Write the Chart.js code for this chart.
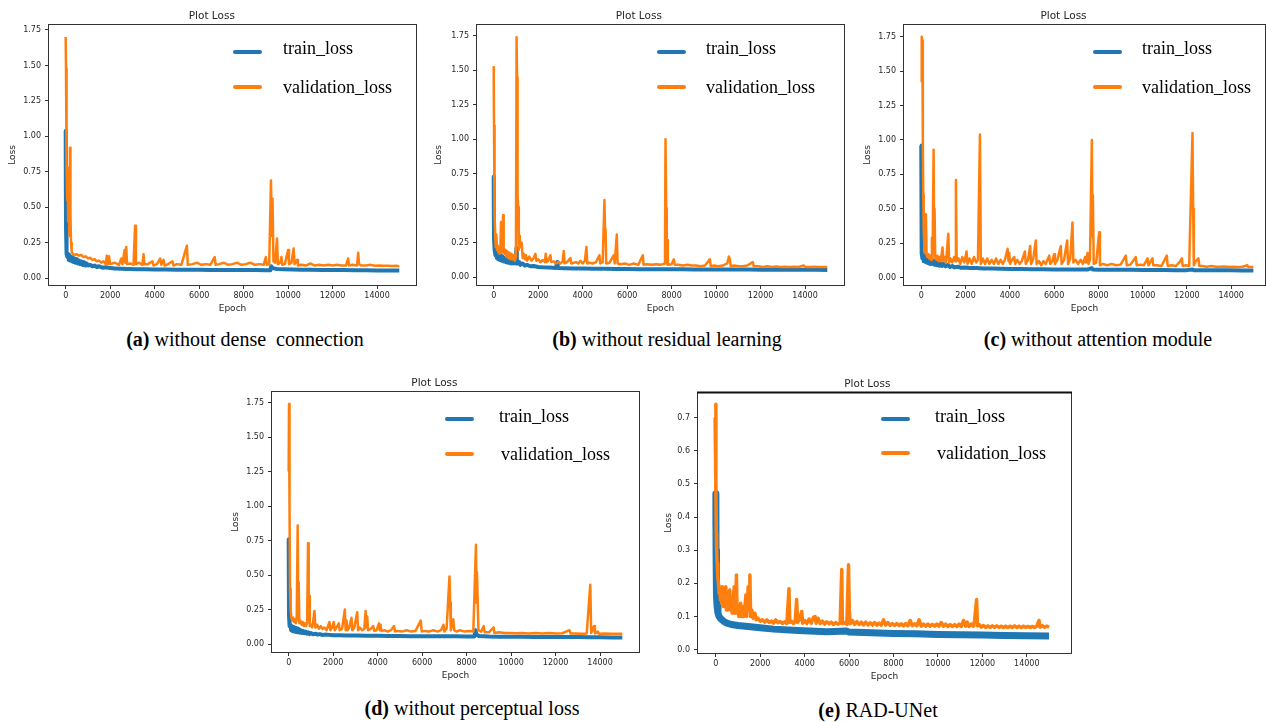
<!DOCTYPE html>
<html>
<head>
<meta charset="utf-8">
<script src="https://cdn.jsdelivr.net/npm/chart.js@4.4.0/dist/chart.umd.min.js"></script>
<style>
  body { margin: 0; width: 1266px; height: 722px; overflow: hidden; background: #fff; position: relative; }
  canvas { position: absolute; }
  .legLine { position: absolute; width: 29px; height: 4px; border-radius: 2px; }
  .legText { position: absolute; font-family: "Liberation Serif", "Times New Roman", serif; font-size: 18px; line-height: 18px; color: #000; white-space: pre; }
  .caption { position: absolute; width: 400px; text-align: center; font-family: "Liberation Serif", "Times New Roman", serif; font-size: 20px; line-height: 20px; color: #000; white-space: pre; }
</style>
</head>
<body>
<canvas id="chartA" width="425" height="320" style="left:-1px;top:-5px"></canvas>
<canvas id="chartB" width="425" height="320" style="left:427px;top:-5px"></canvas>
<canvas id="chartC" width="419" height="320" style="left:854px;top:-5px"></canvas>
<canvas id="chartD" width="425" height="320" style="left:222px;top:362px"></canvas>
<canvas id="chartE" width="431" height="320" style="left:648px;top:363px"></canvas>

<!-- legends -->
<div class="legLine" style="left:233px;top:50px;background:#1f77b4"></div>
<div class="legLine" style="left:233px;top:85px;background:#ff7f0e"></div>
<div class="legText" style="left:283px;top:39px">train_loss</div>
<div class="legText" style="left:283px;top:78px">validation_loss</div>

<div class="legLine" style="left:657px;top:50px;background:#1f77b4"></div>
<div class="legLine" style="left:657px;top:85px;background:#ff7f0e"></div>
<div class="legText" style="left:706px;top:39px">train_loss</div>
<div class="legText" style="left:706px;top:78px">validation_loss</div>

<div class="legLine" style="left:1093px;top:50px;background:#1f77b4"></div>
<div class="legLine" style="left:1093px;top:85px;background:#ff7f0e"></div>
<div class="legText" style="left:1142px;top:39px">train_loss</div>
<div class="legText" style="left:1142px;top:78px">validation_loss</div>

<div class="legLine" style="left:445px;top:417px;background:#1f77b4"></div>
<div class="legLine" style="left:445px;top:452px;background:#ff7f0e"></div>
<div class="legText" style="left:499px;top:407px">train_loss</div>
<div class="legText" style="left:501px;top:445px">validation_loss</div>

<div class="legLine" style="left:881px;top:417px;background:#1f77b4"></div>
<div class="legLine" style="left:881px;top:451px;background:#ff7f0e"></div>
<div class="legText" style="left:935px;top:407px">train_loss</div>
<div class="legText" style="left:937px;top:444px">validation_loss</div>

<!-- captions -->
<div class="caption" style="left:45px;top:329px"><b>(a)</b> without dense  connection</div>
<div class="caption" style="left:467px;top:329px"><b>(b)</b> without residual learning</div>
<div class="caption" style="left:898px;top:329px"><b>(c)</b> without attention module</div>
<div class="caption" style="left:272px;top:698px"><b>(d)</b> without perceptual loss</div>
<div class="caption" style="left:678px;top:700px"><b>(e)</b> RAD-UNet</div>

<script>
const blue = '#1f77b4';
const orange = '#ff7f0e';

const epochTicks = [0, 2000, 4000, 6000, 8000, 10000, 12000, 14000];
const lossTicks = [0, 0.25, 0.5, 0.75, 1.0, 1.25, 1.5, 1.75];
const lossTicksE = [0, 0.1, 0.2, 0.3, 0.4, 0.5, 0.6, 0.7];

// [epoch, loss] pairs
const trainA = [[0,1.04],[8,0.62],[16,0.35],[30,0.22],[50,0.17],[80,0.15],[110,0.17],[140,0.13],[170,0.16],[200,0.125],
  [240,0.15],[280,0.12],[320,0.145],[360,0.115],[400,0.14],[450,0.11],[500,0.135],[550,0.105],[600,0.125],[650,0.10],
  [700,0.12],[760,0.095],[820,0.115],[880,0.09],[940,0.105],[1000,0.09],[1100,0.095],[1200,0.085],[1300,0.09],[1400,0.08],
  [1500,0.085],[1650,0.075],[1800,0.078],[2000,0.072],[2200,0.07],[2500,0.068],[2800,0.066],[3200,0.064],[3600,0.064],[4000,0.062],
  [4500,0.062],[5000,0.061],[5500,0.06],[6000,0.06],[6500,0.059],[7000,0.059],[7500,0.058],[8000,0.058],[8500,0.058],[9000,0.057],
  [9200,0.057],[9240,0.085],[9280,0.075],[9350,0.07],[9500,0.066],[9800,0.064],[10200,0.062],[10600,0.061],[11000,0.06],[11500,0.059],
  [12000,0.058],[12500,0.058],[13000,0.057],[13500,0.057],[14000,0.056],[14500,0.056],[15000,0.055]];
const valA = [[0,1.70],[15,1.48],[30,1.0],[50,0.78],[70,0.55],[90,0.78],[110,0.40],[140,0.52],[170,0.30],[195,0.92],
  [215,0.45],[240,0.25],[270,0.19],[320,0.17],[400,0.165],[500,0.17],[600,0.16],[700,0.165],[800,0.15],[900,0.155],
  [1000,0.14],[1100,0.145],[1200,0.13],[1300,0.135],[1400,0.12],[1500,0.125],[1600,0.11],[1700,0.12],[1800,0.10],[1850,0.16],
  [1900,0.10],[1950,0.155],[2000,0.10],[2200,0.11],[2400,0.095],[2500,0.14],[2550,0.10],[2650,0.20],[2680,0.11],[2720,0.22],
  [2760,0.10],[2900,0.105],[3050,0.095],[3120,0.37],[3160,0.10],[3300,0.11],[3450,0.095],[3500,0.17],[3540,0.10],[3700,0.10],
  [3900,0.12],[3950,0.09],[4100,0.10],[4250,0.14],[4300,0.095],[4400,0.13],[4450,0.09],[4600,0.10],[4800,0.12],[4850,0.09],
  [5000,0.10],[5200,0.095],[5450,0.23],[5490,0.095],[5700,0.10],[5900,0.11],[6100,0.095],[6300,0.10],[6500,0.095],[6700,0.15],
  [6740,0.095],[6900,0.10],[7100,0.11],[7300,0.095],[7500,0.10],[7700,0.11],[7900,0.095],[8100,0.10],[8300,0.11],[8500,0.095],
  [8700,0.10],[8900,0.095],[9000,0.15],[9040,0.095],[9150,0.10],[9230,0.69],[9270,0.30],[9300,0.56],[9340,0.12],[9420,0.11],
  [9500,0.28],[9540,0.10],[9650,0.11],[9700,0.15],[9740,0.095],[9850,0.10],[10000,0.20],[10040,0.10],[10150,0.11],[10250,0.21],
  [10290,0.10],[10400,0.13],[10440,0.09],[10600,0.095],[10800,0.09],[11000,0.105],[11200,0.09],[11400,0.095],[11600,0.09],[11800,0.095],
  [12000,0.09],[12200,0.095],[12400,0.09],[12600,0.09],[12700,0.14],[12740,0.09],[12900,0.095],[13100,0.09],[13150,0.18],[13190,0.10],
  [13300,0.09],[13500,0.09],[13700,0.095],[13900,0.088],[14100,0.09],[14300,0.088],[14500,0.088],[14700,0.087],[14850,0.088],[15000,0.085]];

const trainB = [[0,0.73],[8,0.45],[16,0.28],[30,0.22],[50,0.2],[80,0.16],[110,0.2],[140,0.14],[170,0.18],[200,0.13],
  [240,0.17],[280,0.125],[320,0.16],[360,0.12],[400,0.15],[450,0.115],[500,0.14],[550,0.11],[600,0.135],[650,0.105],
  [700,0.13],[760,0.1],[820,0.125],[880,0.1],[940,0.12],[1000,0.1],[1020,0.21],[1040,0.13],[1080,0.1],[1150,0.11],
  [1200,0.09],[1300,0.1],[1400,0.085],[1500,0.09],[1650,0.08],[1800,0.082],[2000,0.075],[2200,0.072],[2500,0.07],[2800,0.068],
  [2850,0.11],[2880,0.068],[3200,0.066],[3600,0.064],[4000,0.063],[4500,0.062],[5000,0.061],[5500,0.06],[6000,0.06],[6500,0.059],
  [7000,0.059],[7500,0.058],[8000,0.058],[8500,0.058],[9000,0.057],[9500,0.057],[10000,0.057],[10500,0.056],[11000,0.056],[11500,0.056],
  [12000,0.055],[12500,0.055],[13000,0.055],[13500,0.054],[14000,0.054],[14500,0.054],[15000,0.053]];
const valB = [[0,1.53],[15,1.1],[30,0.76],[50,0.45],[70,0.3],[90,0.22],[120,0.31],[150,0.2],[180,0.23],[210,0.18],
  [240,0.21],[270,0.17],[300,0.2],[330,0.4],[360,0.18],[390,0.21],[420,0.45],[450,0.2],[480,0.17],[525,0.2],
  [560,0.15],[600,0.19],[650,0.14],[700,0.18],[750,0.13],[800,0.17],[850,0.13],[900,0.16],[950,0.12],[1000,0.15],
  [1030,1.74],[1050,1.45],[1075,0.6],[1100,0.51],[1130,0.2],[1170,0.3],[1200,0.22],[1260,0.25],[1300,0.14],[1350,0.17],
  [1400,0.13],[1450,0.16],[1500,0.12],[1600,0.15],[1700,0.12],[1800,0.14],[1875,0.17],[1920,0.12],[2000,0.13],[2100,0.11],
  [2200,0.125],[2300,0.11],[2340,0.17],[2380,0.11],[2450,0.12],[2550,0.16],[2590,0.11],[2700,0.115],[2800,0.1],[2900,0.11],
  [3000,0.1],[3100,0.115],[3150,0.19],[3190,0.1],[3300,0.11],[3450,0.14],[3490,0.1],[3600,0.105],[3700,0.11],[3800,0.1],
  [3900,0.12],[4000,0.1],[4100,0.12],[4170,0.22],[4210,0.1],[4300,0.105],[4450,0.1],[4600,0.11],[4755,0.16],[4790,0.1],
  [4900,0.11],[4980,0.56],[5010,0.3],[5030,0.35],[5060,0.1],[5200,0.105],[5400,0.16],[5440,0.1],[5535,0.31],[5570,0.1],
  [5700,0.095],[5900,0.1],[6100,0.09],[6300,0.1],[6500,0.09],[6705,0.16],[6740,0.09],[6900,0.095],[7100,0.09],[7300,0.095],
  [7500,0.09],[7700,0.1],[7725,1.0],[7755,0.5],[7780,0.1],[7800,0.27],[7830,0.09],[8000,0.095],[8100,0.13],[8140,0.09],
  [8300,0.09],[8500,0.085],[8700,0.09],[8900,0.085],[9100,0.085],[9300,0.08],[9500,0.085],[9720,0.13],[9760,0.08],[9900,0.085],
  [10100,0.08],[10300,0.085],[10500,0.1],[10575,0.15],[10620,0.13],[10660,0.08],[10800,0.085],[11000,0.08],[11200,0.08],[11400,0.085],
  [11650,0.11],[11690,0.08],[11900,0.08],[12100,0.075],[12300,0.08],[12500,0.075],[12700,0.078],[12900,0.075],[13100,0.077],[13300,0.074],
  [13500,0.076],[13700,0.074],[13950,0.085],[14000,0.075],[14200,0.074],[14400,0.076],[14600,0.074],[14800,0.075],[15000,0.075]];

const trainC = [[0,0.96],[8,0.5],[16,0.27],[30,0.18],[50,0.14],[80,0.17],[110,0.12],[140,0.16],[170,0.115],[200,0.15],
  [240,0.11],[280,0.145],[320,0.105],[360,0.14],[400,0.1],[450,0.13],[500,0.1],[550,0.125],[600,0.095],[650,0.12],
  [700,0.09],[760,0.11],[820,0.088],[880,0.105],[940,0.085],[1000,0.1],[1100,0.082],[1200,0.092],[1300,0.078],[1400,0.085],
  [1500,0.075],[1650,0.08],[1800,0.072],[2000,0.074],[2200,0.07],[2500,0.07],[2800,0.067],[3200,0.066],[3600,0.065],[4000,0.064],
  [4500,0.063],[5000,0.062],[5500,0.061],[6000,0.06],[6500,0.06],[7000,0.059],[7500,0.059],[7700,0.07],[7740,0.06],[8000,0.058],
  [8500,0.058],[9000,0.057],[9500,0.057],[10000,0.056],[10500,0.056],[11000,0.056],[11500,0.055],[12000,0.055],[12250,0.06],[12300,0.055],
  [12500,0.055],[13000,0.054],[13500,0.054],[14000,0.054],[14500,0.053],[15000,0.053]];
const valC = [[0,1.42],[20,1.75],[50,1.72],[70,1.0],[90,0.6],[110,0.35],[135,0.25],[160,0.18],[190,0.2],[210,0.46],
  [240,0.17],[280,0.15],[320,0.17],[360,0.14],[400,0.16],[440,0.13],[480,0.29],[510,0.14],[557,0.93],[580,0.3],
  [600,0.5],[630,0.15],[680,0.13],[730,0.16],[780,0.12],[830,0.15],[880,0.12],[960,0.22],[1000,0.12],[1060,0.15],
  [1120,0.11],[1220,0.32],[1260,0.11],[1320,0.14],[1400,0.11],[1480,0.15],[1530,0.12],[1565,0.71],[1600,0.12],[1680,0.14],
  [1760,0.1],[1850,0.15],[1950,0.11],[2045,0.19],[2090,0.1],[2180,0.14],[2280,0.1],[2380,0.15],[2480,0.11],[2560,0.13],
  [2650,1.04],[2690,0.1],[2780,0.14],[2880,0.1],[2980,0.14],[3080,0.1],[3180,0.13],[3280,0.1],[3380,0.14],[3480,0.1],
  [3580,0.13],[3680,0.1],[3780,0.13],[3900,0.21],[3940,0.12],[3970,0.18],[4010,0.1],[4100,0.13],[4200,0.15],[4240,0.1],
  [4340,0.13],[4440,0.1],[4540,0.12],[4680,0.19],[4720,0.1],[4820,0.13],[4920,0.23],[4960,0.1],[5060,0.14],[5175,0.27],
  [5210,0.1],[5320,0.12],[5420,0.09],[5520,0.12],[5620,0.1],[5780,0.16],[5820,0.1],[5920,0.12],[6000,0.17],[6040,0.1],
  [6150,0.13],[6300,0.23],[6340,0.1],[6450,0.13],[6590,0.27],[6630,0.1],[6730,0.14],[6830,0.4],[6870,0.11],[6970,0.13],
  [7080,0.1],[7200,0.13],[7300,0.1],[7400,0.15],[7440,0.11],[7510,0.18],[7550,0.1],[7620,0.13],[7705,1.0],[7735,0.3],
  [7750,0.6],[7790,0.1],[7900,0.11],[8035,0.33],[8070,0.09],[8200,0.1],[8400,0.09],[8600,0.1],[8800,0.09],[9000,0.095],
  [9240,0.16],[9280,0.09],[9450,0.095],[9690,0.15],[9730,0.09],[9900,0.095],[10050,0.09],[10220,0.14],[10260,0.09],[10440,0.14],
  [10480,0.09],[10650,0.09],[10850,0.085],[11090,0.16],[11130,0.085],[11300,0.09],[11500,0.085],[11700,0.12],[11770,0.14],[11810,0.085],
  [11950,0.09],[12100,0.085],[12250,1.05],[12280,0.5],[12310,0.09],[12400,0.12],[12520,0.14],[12560,0.085],[12700,0.085],[12900,0.08],
  [13100,0.085],[13300,0.08],[13500,0.08],[13700,0.082],[13900,0.078],[14100,0.08],[14300,0.078],[14500,0.08],[14730,0.09],[14770,0.078],
  [14900,0.078],[15000,0.077]];

const trainD = [[0,0.76],[8,0.4],[16,0.2],[30,0.16],[50,0.13],[80,0.14],[110,0.1],[140,0.13],[170,0.095],[200,0.125],
  [240,0.09],[280,0.12],[320,0.088],[360,0.115],[400,0.085],[450,0.11],[500,0.082],[550,0.1],[600,0.08],[650,0.095],
  [700,0.078],[760,0.09],[820,0.075],[880,0.085],[940,0.072],[1000,0.08],[1100,0.07],[1200,0.075],[1300,0.068],[1400,0.072],
  [1500,0.066],[1700,0.068],[2000,0.064],[2300,0.064],[2600,0.062],[3000,0.061],[3500,0.06],[4000,0.059],[4500,0.058],[5000,0.058],
  [5500,0.057],[6000,0.057],[6500,0.056],[7000,0.056],[7500,0.056],[8000,0.055],[8350,0.055],[8400,0.1],[8440,0.07],[8550,0.058],
  [9000,0.054],[9500,0.053],[10000,0.052],[10500,0.052],[11000,0.051],[11500,0.051],[12000,0.05],[12500,0.05],[13000,0.05],[13500,0.049],
  [14000,0.049],[14500,0.048],[15000,0.048]];
const valD = [[0,1.25],[15,1.74],[30,1.7],[45,1.0],[60,0.4],[90,0.25],[120,0.19],[160,0.17],[200,0.19],[240,0.16],
  [280,0.18],[320,0.15],[360,0.17],[405,0.86],[430,0.2],[450,0.45],[480,0.15],[530,0.17],[580,0.14],[630,0.16],
  [680,0.13],[730,0.15],[780,0.13],[830,0.15],[870,0.73],[900,0.2],[920,0.35],[950,0.13],[1000,0.14],[1060,0.12],
  [1160,0.24],[1200,0.12],[1280,0.14],[1360,0.11],[1440,0.13],[1520,0.11],[1600,0.12],[1700,0.1],[1835,0.16],[1870,0.1],
  [1950,0.12],[2030,0.16],[2070,0.1],[2150,0.12],[2255,0.15],[2290,0.1],[2400,0.11],[2525,0.25],[2560,0.1],[2600,0.17],
  [2640,0.1],[2720,0.12],[2825,0.19],[2860,0.1],[2950,0.12],[3080,0.23],[3120,0.1],[3200,0.12],[3300,0.1],[3400,0.11],
  [3460,0.24],[3490,0.12],[3530,0.2],[3570,0.1],[3700,0.11],[3800,0.13],[3850,0.095],[3950,0.1],[4060,0.15],[4090,0.1],
  [4130,0.14],[4170,0.095],[4300,0.1],[4450,0.09],[4600,0.1],[4740,0.13],[4780,0.09],[4900,0.095],[5100,0.09],[5300,0.1],
  [5500,0.09],[5700,0.095],[5940,0.17],[5980,0.09],[6100,0.095],[6300,0.09],[6500,0.1],[6700,0.09],[6850,0.1],[6960,0.14],
  [7000,0.09],[7100,0.11],[7230,0.49],[7260,0.3],[7290,0.1],[7400,0.18],[7440,0.1],[7550,0.09],[7700,0.1],[7900,0.09],
  [8100,0.095],[8300,0.09],[8420,0.72],[8445,0.3],[8465,0.52],[8500,0.3],[8530,0.1],[8650,0.09],[8770,0.13],[8810,0.085],
  [9000,0.085],[9215,0.12],[9250,0.08],[9450,0.085],[9700,0.08],[9900,0.08],[10200,0.078],[10500,0.08],[10800,0.077],[11100,0.08],
  [11400,0.077],[11700,0.079],[12000,0.076],[12300,0.078],[12630,0.1],[12670,0.076],[12900,0.077],[13200,0.075],[13400,0.077],[13560,0.43],
  [13600,0.08],[13730,0.13],[13770,0.076],[13900,0.09],[13940,0.075],[14200,0.076],[14500,0.074],[14800,0.075],[15000,0.074]];

const trainE = [[0,0.37],[5,0.47],[12,0.3],[25,0.2],[40,0.16],[60,0.13],[100,0.11],[150,0.1],[230,0.093],[350,0.086],
  [500,0.08],[700,0.076],[1000,0.073],[1450,0.07],[2000,0.066],[2600,0.062],[3700,0.058],[5000,0.054],[5900,0.056],[6000,0.053],
  [7000,0.051],[8000,0.049],[9000,0.048],[10000,0.046],[11000,0.045],[12000,0.044],[13000,0.043],[14000,0.042],[15000,0.041]];
const valE = [[-30,0.7],[0,0.74],[10,0.48],[25,0.35],[40,0.3],[60,0.26],[90,0.22],[120,0.2],[150,0.17],[180,0.19],
  [210,0.15],[240,0.18],[270,0.14],[300,0.19],[330,0.13],[370,0.17],[410,0.13],[450,0.19],[480,0.12],[510,0.16],
  [540,0.12],[580,0.17],[630,0.18],[660,0.12],[700,0.15],[740,0.11],[780,0.14],[830,0.19],[860,0.11],[900,0.15],
  [930,0.225],[960,0.11],[1000,0.13],[1040,0.1],[1080,0.12],[1120,0.14],[1160,0.1],[1200,0.13],[1250,0.1],[1300,0.12],
  [1355,0.165],[1390,0.1],[1420,0.14],[1460,0.19],[1500,0.12],[1535,0.225],[1570,0.1],[1620,0.12],[1680,0.095],[1760,0.11],
  [1820,0.09],[1900,0.095],[2000,0.086],[2100,0.09],[2200,0.083],[2300,0.09],[2400,0.082],[2500,0.086],[2600,0.08],[2700,0.09],
  [2800,0.081],[2900,0.085],[3000,0.079],[3100,0.084],[3200,0.079],[3295,0.184],[3330,0.082],[3400,0.086],[3500,0.079],[3580,0.088],
  [3640,0.151],[3680,0.082],[3760,0.09],[3870,0.115],[3910,0.08],[4000,0.088],[4100,0.079],[4200,0.092],[4300,0.08],[4400,0.098],
  [4470,0.1],[4520,0.08],[4600,0.095],[4700,0.079],[4800,0.086],[4900,0.077],[5000,0.084],[5100,0.078],[5200,0.083],[5300,0.076],
  [5400,0.082],[5500,0.077],[5600,0.08],[5670,0.242],[5700,0.078],[5800,0.082],[5900,0.076],[5975,0.256],[6010,0.12],[6050,0.078],
  [6150,0.088],[6250,0.076],[6350,0.085],[6450,0.076],[6550,0.083],[6650,0.075],[6750,0.083],[6850,0.075],[6950,0.081],[7050,0.074],
  [7150,0.082],[7250,0.074],[7350,0.08],[7450,0.074],[7550,0.09],[7650,0.074],[7750,0.082],[7850,0.073],[7950,0.079],[8050,0.073],
  [8150,0.079],[8250,0.073],[8350,0.078],[8450,0.072],[8550,0.079],[8650,0.072],[8750,0.088],[8850,0.072],[8950,0.078],[9050,0.072],
  [9150,0.09],[9250,0.071],[9350,0.077],[9450,0.071],[9550,0.077],[9650,0.071],[9750,0.076],[9850,0.071],[9950,0.077],[10050,0.071],
  [10150,0.082],[10250,0.071],[10350,0.077],[10450,0.07],[10550,0.076],[10650,0.07],[10750,0.076],[10850,0.07],[10950,0.077],[11050,0.07],
  [11150,0.088],[11250,0.071],[11320,0.083],[11400,0.07],[11500,0.077],[11600,0.071],[11650,0.088],[11740,0.151],[11780,0.072],[11850,0.076],
  [11950,0.068],[12050,0.073],[12150,0.067],[12250,0.072],[12350,0.067],[12450,0.072],[12550,0.067],[12650,0.072],[12750,0.067],[12850,0.071],
  [12950,0.067],[13050,0.071],[13150,0.067],[13250,0.071],[13350,0.067],[13450,0.072],[13550,0.067],[13650,0.071],[13750,0.067],[13850,0.071],
  [13950,0.067],[14050,0.07],[14150,0.067],[14250,0.07],[14350,0.067],[14450,0.071],[14550,0.088],[14600,0.068],[14700,0.072],[14800,0.068],
  [14900,0.071],[15000,0.068]];

const tickFont = { family: 'DejaVu Sans', size: 8 };
const labelFont = { family: 'DejaVu Sans', size: 9 };
const textColor = '#262626';

// matplotlib style box around the plot area
const framePlugin = {
  id: 'frame',
  afterDraw(chart, args, opts) {
    const { left, top, right, bottom } = chart.chartArea;
    const ctx = chart.ctx;
    ctx.save();
    ctx.strokeStyle = '#333';
    ctx.lineWidth = 1;
    ctx.strokeRect(Math.round(left) - 0.5, Math.round(top) - 0.5, Math.round(right - left) + 1, Math.round(bottom - top) + 1);
    if (opts.topWidth) {
      ctx.lineWidth = opts.topWidth;
      ctx.strokeStyle = '#111';
      ctx.beginPath();
      ctx.moveTo(left - 1, top - 0.5);
      ctx.lineTo(right + 1, top - 0.5);
      ctx.stroke();
    }
    ctx.restore();
  }
};

function toPoints(pairs) {
  return pairs.map(p => ({ x: p[0], y: p[1] }));
}

function makeChart(id, panel) {
  const ctx = document.getElementById(id).getContext('2d');
  const yAxisWidth = 50 - panel.padLeft;
  return new Chart(ctx, {
    type: 'line',
    data: {
      datasets: [
        {
          label: 'train_loss',
          data: toPoints(panel.train),
          borderColor: blue,
          borderWidth: panel.trainWidth,
          pointRadius: 0,
          borderJoinStyle: 'round',
          order: 1
        },
        {
          label: 'validation_loss',
          data: toPoints(panel.val),
          borderColor: orange,
          borderWidth: panel.valWidth,
          pointRadius: 0,
          borderJoinStyle: 'round',
          order: 0
        }
      ]
    },
    options: {
      responsive: false,
      animation: false,
      devicePixelRatio: 1,
      events: [],
      layout: { padding: { left: panel.padLeft, right: 8, top: 0, bottom: 1 } },
      scales: {
        x: {
          type: 'linear',
          min: panel.xMin,
          max: panel.xMax,
          afterBuildTicks: s => { s.ticks = epochTicks.map(v => ({ value: v })); },
          ticks: {
            autoSkip: false,
            maxRotation: 0,
            font: tickFont,
            color: textColor,
            padding: 2,
            callback: v => String(v)
          },
          grid: { drawOnChartArea: false, tickLength: 4, color: '#333' },
          border: { display: false },
          title: { display: true, text: 'Epoch', font: labelFont, color: textColor, padding: 0 },
          afterFit: s => { s.height = 29; }
        },
        y: {
          min: panel.yMin,
          max: panel.yMax,
          afterBuildTicks: s => { s.ticks = panel.yTicks.map(v => ({ value: v })); },
          ticks: {
            autoSkip: false,
            font: tickFont,
            color: textColor,
            padding: 4,
            callback: v => v.toFixed(panel.yDigits)
          },
          grid: { drawOnChartArea: false, tickLength: 4, color: '#333' },
          border: { display: false },
          title: { display: true, text: 'Loss', font: labelFont, color: textColor, padding: 0 },
          afterFit: s => { s.width = yAxisWidth; }
        }
      },
      plugins: {
        legend: { display: false },
        tooltip: { enabled: false },
        title: {
          display: true,
          text: 'Plot Loss',
          font: { family: 'DejaVu Sans', size: 10.5, weight: 'normal' },
          color: textColor,
          padding: { top: 14.5, bottom: 2.9 }
        },
        frame: { topWidth: panel.topWidth || 0 }
      }
    },
    plugins: [framePlugin]
  });
}

makeChart('chartA', { train: trainA, val: valA, xMin: -750, xMax: 15750, yMin: -0.047, yMax: 1.785, yTicks: lossTicks, yDigits: 2, padLeft: 8.6, trainWidth: 4, valWidth: 2.5 });
makeChart('chartB', { train: trainB, val: valB, xMin: -750, xMax: 15750, yMin: -0.056, yMax: 1.828, yTicks: lossTicks, yDigits: 2, padLeft: 6.6, trainWidth: 4, valWidth: 2.5 });
makeChart('chartC', { train: trainC, val: valC, xMin: -780, xMax: 15525, yMin: -0.053, yMax: 1.835, yTicks: lossTicks, yDigits: 2, padLeft: 8, trainWidth: 4, valWidth: 2.5 });
makeChart('chartD', { train: trainD, val: valD, xMin: -750, xMax: 15750, yMin: -0.058, yMax: 1.827, yTicks: lossTicks, yDigits: 2, padLeft: 7.9, trainWidth: 4, valWidth: 2.5 });
makeChart('chartE', { train: trainE, val: valE, xMin: -800, xMax: 15990, yMin: -0.010, yMax: 0.774, yTicks: lossTicksE, yDigits: 1, padLeft: 15.6, trainWidth: 7, valWidth: 3.5, topWidth: 2 });
</script>
</body>
</html>
